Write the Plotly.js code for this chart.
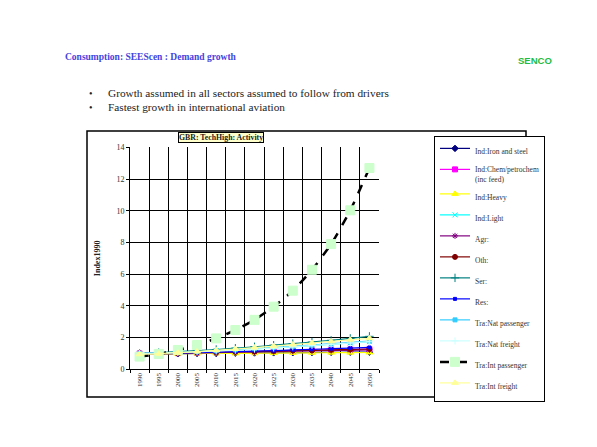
<!DOCTYPE html>
<html>
<head>
<meta charset="utf-8">
<script src="https://cdn.plot.ly/plotly-3.0.1.min.js"></script>
<style>html,body{margin:0;padding:0;background:#fff;}#chart{width:597px;height:447px;}</style>
</head>
<body>
<div id="chart"></div>
<script>
var years = ["1990","1995","2000","2005","2010","2015","2020","2025","2030","2035","2040","2045","2050"];
var seriesNames = ["Ind:Iron and steel","Ind:Chem/petrochem<br>(inc feed)","Ind:Heavy","Ind:Light","Agr:","Oth:","Ser:","Res:","Tra:Nat passenger","Tra:Nat freight","Tra:Int passenger","Tra:Int freight"];
var indIron   = [1.00,0.98,0.98,1.00,1.00,1.02,1.03,1.04,1.05,1.06,1.07,1.08,1.08];
var indChem   = [1.00,1.00,1.02,1.05,1.08,1.10,1.12,1.14,1.17,1.20,1.22,1.25,1.27];
var indHeavy  = [1.00,0.97,0.98,1.00,1.00,1.00,1.01,1.02,1.03,1.04,1.05,1.05,1.06];
var indLight  = [1.00,1.03,1.08,1.12,1.17,1.22,1.28,1.35,1.42,1.50,1.58,1.66,1.75];
var agr       = [1.00,0.98,1.00,1.03,1.05,1.08,1.10,1.12,1.14,1.16,1.18,1.20,1.22];
var oth       = [1.00,1.00,1.02,1.05,1.08,1.10,1.12,1.15,1.18,1.20,1.23,1.25,1.28];
var ser       = [1.00,1.05,1.12,1.18,1.25,1.33,1.42,1.52,1.62,1.72,1.83,1.95,2.08];
var res       = [1.00,1.00,1.02,1.05,1.08,1.12,1.15,1.18,1.22,1.26,1.30,1.34,1.38];
var natPass   = [1.00,1.03,1.08,1.12,1.17,1.23,1.30,1.37,1.45,1.53,1.62,1.70,1.78];
var natFreight= [1.00,1.02,1.05,1.10,1.15,1.20,1.27,1.34,1.42,1.50,1.58,1.66,1.74];
var intPass   = [0.80,0.97,1.22,1.53,1.95,2.48,3.12,3.95,4.96,6.28,7.90,10.03,12.70];
var intFreight= [0.95,0.98,1.05,1.12,1.20,1.28,1.37,1.46,1.56,1.66,1.76,1.86,1.95];
var yTicks = [0,2,4,6,8,10,12,14];

var W = 597, H = 447;
function px(x){return x/W;}
function py(y){return 1 - y/H;}

var styles = [
  {c:"#000080", s:"diamond", sz:5},
  {c:"#FF00FF", s:"square", sz:5},
  {c:"#FFFF00", s:"triangle-up", sz:6},
  {c:"#00FFFF", s:"x-thin-open", sz:5},
  {c:"#800080", s:"asterisk-open", sz:5},
  {c:"#800000", s:"circle", sz:5},
  {c:"#008080", s:"cross-thin-open", sz:6},
  {c:"#0000FF", s:"square", sz:3},
  {c:"#33CCFF", s:"square", sz:4},
  {c:"#CCFFFF", s:"cross-thin-open", sz:5},
  {c:"#000000", s:"square", sz:9, mc:"#CCFFCC", w:2.5, dash:"dash"},
  {c:"#FFFF99", s:"triangle-up", sz:6}
];
var data = [indIron,indChem,indHeavy,indLight,agr,oth,ser,res,natPass,natFreight,intPass,intFreight];
var traces = data.map(function(d,i){
  var st = styles[i];
  return {
    type:"scatter", mode:"lines+markers", x:years, y:d, name:seriesNames[i],
    legendgroup:"g"+i,
    line:{color:st.c, width:st.w||1.2, dash:st.dash||"solid", shape:"spline", smoothing:0.6},
    marker:{symbol:st.s, size:st.sz, color:st.mc||st.c, line:{color:st.mc||st.c, width:1}}
  };
});

var layout = {
  width:W, height:H,
  margin:{l:0,r:0,t:0,b:0},
  paper_bgcolor:"#ffffff", plot_bgcolor:"#ffffff",
  font:{family:"Liberation Serif, Times New Roman, serif", color:"#222"},
  showlegend:true,
  legend:{x:px(434), y:py(136), xanchor:"left", yanchor:"top",
    bgcolor:"#ffffff", bordercolor:"#000", borderwidth:1,
    font:{size:7.5, family:"Liberation Serif", color:"#333"},
    tracegroupgap:2, valign:"top", itemwidth:30},
  xaxis:{type:"category", domain:[px(130), px(379)], range:[-0.5,12.5],
    tickson:"boundaries", showgrid:true, gridcolor:"#000", gridwidth:1,
    showline:true, linecolor:"#000", linewidth:1,
    ticks:"outside", ticklen:3, tickcolor:"#000", tickangle:-90,
    tickfont:{size:7, family:"Liberation Serif", color:"#333"}, fixedrange:true},
  yaxis:{domain:[py(369.3), py(147.4)], range:[0,14], tickvals:yTicks,
    showgrid:true, gridcolor:"#000", gridwidth:1, zeroline:false,
    showline:true, linecolor:"#000", linewidth:1,
    ticks:"outside", ticklen:3, tickcolor:"#000",
    tickfont:{size:8, family:"Liberation Serif", color:"#333"},
    title:{text:"<b>Index1990</b>", standoff:14, font:{size:8, family:"Liberation Serif", color:"#222"}},
    fixedrange:true},
  shapes:[
    {type:"rect", xref:"paper", yref:"paper", x0:px(87), x1:px(526), y0:py(397), y1:py(131),
     line:{color:"#000", width:1.5}, fillcolor:"rgba(0,0,0,0)", layer:"below"}
  ],
  annotations:[
    {xref:"paper", yref:"paper", x:px(63), y:py(57), xanchor:"left", yanchor:"middle", showarrow:false,
     text:"<b>Consumption: SEEScen : Demand growth</b>", font:{size:9.5, family:"Liberation Serif", color:"#4444DD"}},
    {xref:"paper", yref:"paper", x:px(554), y:py(60), xanchor:"right", yanchor:"middle", showarrow:false,
     text:"<b>SENCO</b>", font:{size:9.5, family:"Liberation Sans", color:"#22BB44"}},
    {xref:"paper", yref:"paper", x:px(87), y:py(93), xanchor:"left", yanchor:"middle", showarrow:false,
     text:"•", font:{size:10, family:"Liberation Serif", color:"#222"}},
    {xref:"paper", yref:"paper", x:px(106), y:py(93), xanchor:"left", yanchor:"middle", showarrow:false,
     text:"Growth assumed in all sectors assumed to follow from drivers", font:{size:11.3, family:"Liberation Serif", color:"#222"}},
    {xref:"paper", yref:"paper", x:px(87), y:py(107), xanchor:"left", yanchor:"middle", showarrow:false,
     text:"•", font:{size:10, family:"Liberation Serif", color:"#222"}},
    {xref:"paper", yref:"paper", x:px(106), y:py(107), xanchor:"left", yanchor:"middle", showarrow:false,
     text:"Fastest growth in international aviation", font:{size:11.3, family:"Liberation Serif", color:"#222"}},
    {xref:"paper", yref:"paper", x:px(220.5), y:py(137.5), xanchor:"center", yanchor:"middle", showarrow:false,
     text:"<b>GBR: TechHigh: Activity</b>", font:{size:7.8, family:"Liberation Serif", color:"#222"},
     bgcolor:"#FFFFCC", bordercolor:"#000", borderwidth:1, borderpad:0}
  ]
};
Plotly.newPlot("chart", traces, layout, {displayModeBar:false, staticPlot:true});
</script>
</body>
</html>
